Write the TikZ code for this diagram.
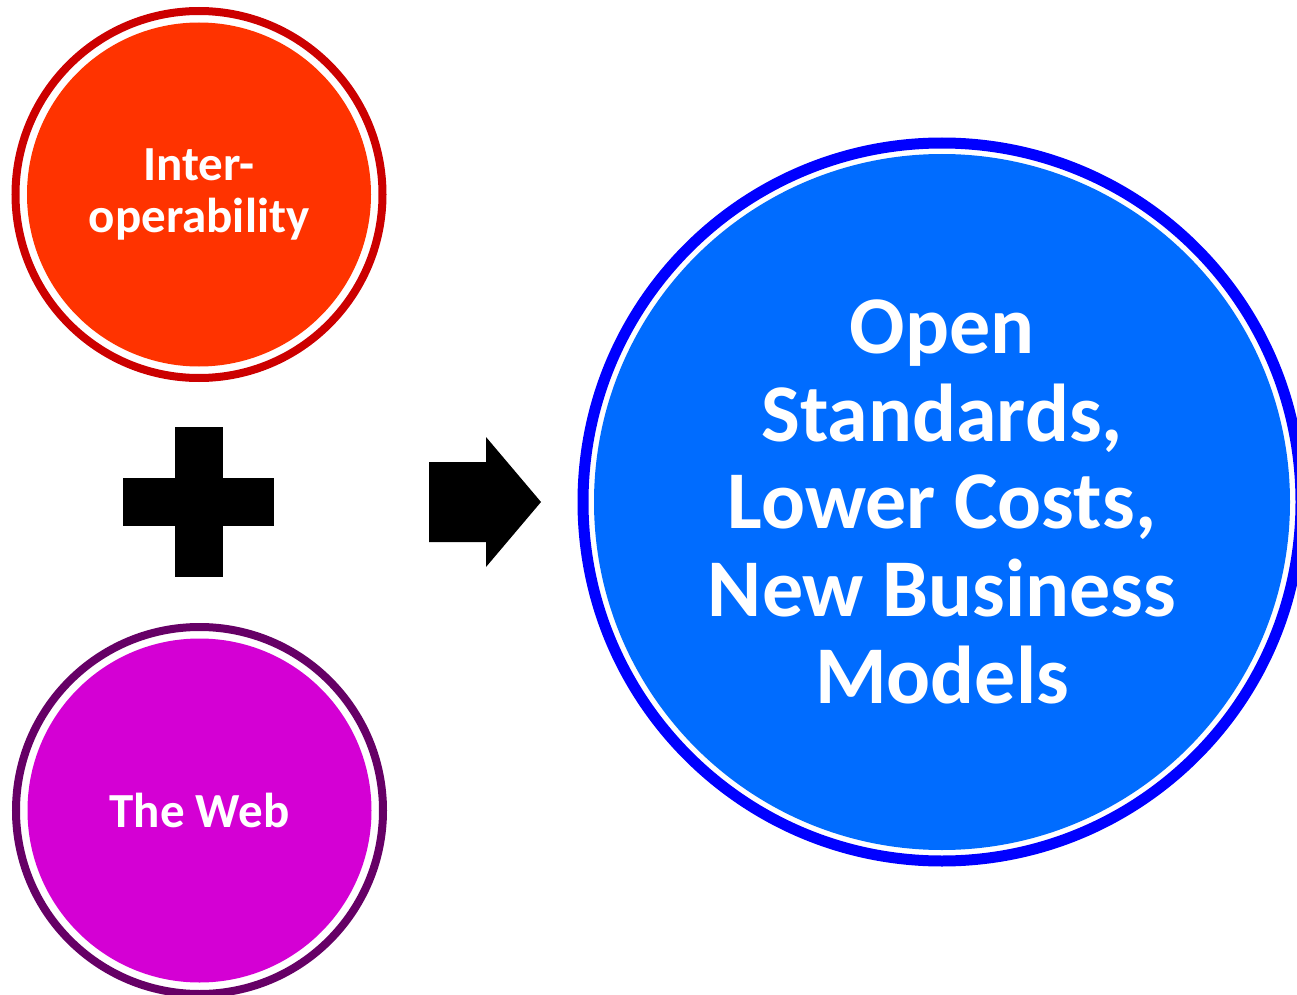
\documentclass[tikz,border=0pt]{standalone}
\usepackage{fontspec}
\setmainfont{Carlito}

\definecolor{interfill}{HTML}{FF3300}
\definecolor{interring}{HTML}{CC0000}
\definecolor{webfill}{HTML}{D400D4}
\definecolor{webring}{HTML}{660066}
\definecolor{openfill}{HTML}{006CFF}
\definecolor{openring}{HTML}{0000FF}

\tikzset{
  bubble/.style={circle, inner sep=0pt, align=center, text=white},
  smalltext/.style={font=\fontsize{24.5}{26}\selectfont\bfseries},
  bigtext/.style={font=\fontsize{41}{43.75}\selectfont\bfseries},
}

\begin{document}
\begin{tikzpicture}[x=0.5pt,y=-0.5pt]

\useasboundingbox (0,0) rectangle (1297,995);

\node[bubble, smalltext, fill=interfill, minimum size=172pt] (inter) at (199,194.5) {Inter-\\operability};
\draw[interring, line width=4pt] (inter.center) circle[radius=91.75pt];

\node[bubble, smalltext, fill=webfill, minimum size=172pt] (web) at (199.5,810.5) {The Web};
\draw[webring, line width=4pt] (web.center) circle[radius=91.75pt];

\node[bubble, bigtext, fill=openfill, minimum size=348pt] (open) at (942,502) {Open\\Standards,\\Lower Costs,\\New Business\\Models};
\draw[openring, line width=5.5pt] (open.center) circle[radius=179.5pt];

% plus sign
\fill (174.7,426.7) rectangle (223,577);
\fill (123,478) rectangle (274,526);

% block arrow
\fill (429,462) to (486,462) to (486,437) to (541,502) to (486,567) to (486,542) to (429,542) to cycle;

\end{tikzpicture}
\end{document}
